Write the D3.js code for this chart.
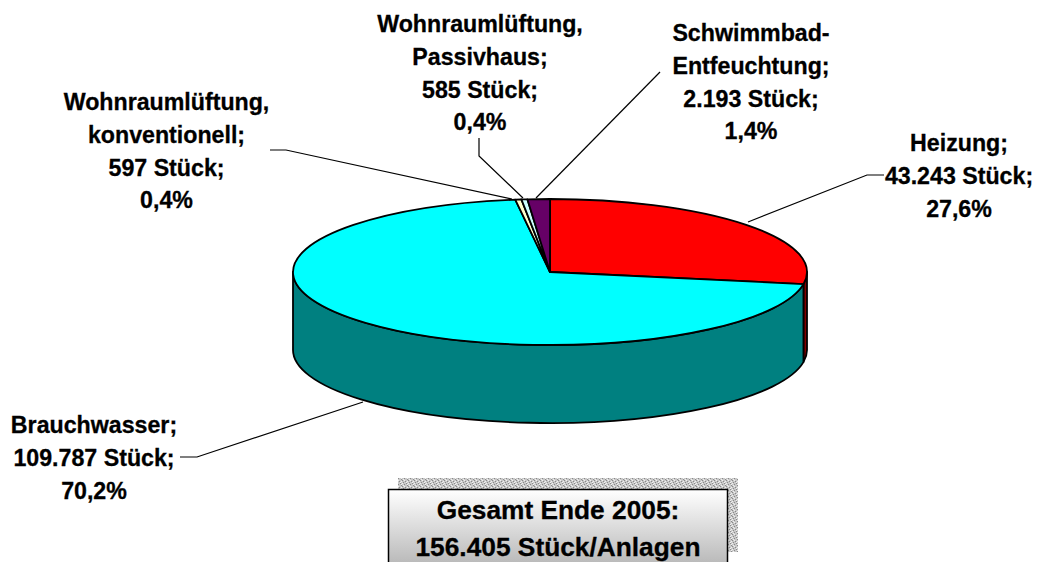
<!DOCTYPE html>
<html><head><meta charset="utf-8">
<style>html,body{margin:0;padding:0;background:#fff}svg{display:block}text{font-family:"Liberation Sans",Arial,sans-serif;font-weight:bold;fill:#000;stroke:#000;stroke-width:.3px}</style>
<script src="https://cdn.jsdelivr.net/npm/d3@7"></script></head><body>
<script>
const categories=["Heizung","Brauchwasser","Wohnraumlüftung, konventionell","Wohnraumlüftung, Passivhaus","Schwimmbad-Entfeuchtung"];
const values=[43243,109787,597,585,2193];
const topColors=["#ff0000","#00ffff","#ffffcc","#ccffff","#660066"];
const sideColors=["#800000","#008080","#808066","#668080","#330033"];
const labelLines=[
 ["Heizung;","43.243 Stück;","27,6%"],
 ["Brauchwasser;","109.787 Stück;","70,2%"],
 ["Wohnraumlüftung,","konventionell;","597 Stück;","0,4%"],
 ["Wohnraumlüftung,","Passivhaus;","585 Stück;","0,4%"],
 ["Schwimmbad-","Entfeuchtung;","2.193 Stück;","1,4%"]];
const labelAnchors=[[959,151],[94,433],[166.5,110],[480,32],[751,41]];
const leaders=[
 [[748,222],[867,175],[884,175]],
 [[363,402],[197,457],[180,457]],
 [[512,199],[286,150],[270,150]],
 [[523,198],[479,156],[479,138]],
 [[536,198],[660,72]]];
const totalLines=["Gesamt Ende 2005:","156.405 Stück/Anlagen"];

const W=1038,H=562,cx=550,cy=272,rx=257,ry=73,depth=78;
const svg=d3.select("body").append("svg").attr("width",W).attr("height",H);
const defs=svg.append("defs");
const g=defs.append("linearGradient").attr("id","boxGrad").attr("x1",0).attr("y1",0).attr("x2",0).attr("y2",1);
g.append("stop").attr("offset",0).attr("stop-color","#ffffff");
g.append("stop").attr("offset",1).attr("stop-color","#b4b4b4");
const pat=defs.append("pattern").attr("id","dither").attr("patternUnits","userSpaceOnUse").attr("width",6).attr("height",6);
pat.append("rect").attr("width",6).attr("height",6).attr("fill","#c8c8c8");
[[0,0],[3,1],[1,2],[4,3],[2,4],[5,5]].forEach(p=>pat.append("rect").attr("x",p[0]).attr("y",p[1]).attr("width",1).attr("height",1).attr("fill","#8a8a8a"));
[[2,0],[5,1],[4,2],[0,3],[5,4],[1,5]].forEach(p=>pat.append("rect").attr("x",p[0]).attr("y",p[1]).attr("width",1).attr("height",1).attr("fill","#f0f0f0"));

const arcs=d3.pie().sort(null)(values);
const px=a=>cx+rx*Math.sin(a), py=a=>cy-ry*Math.cos(a);
const wedge=d=>{
  const large=d.endAngle-d.startAngle>Math.PI?1:0;
  return `M${cx},${cy}L${px(d.startAngle)},${py(d.startAngle)}A${rx},${ry} 0 ${large} 1 ${px(d.endAngle)},${py(d.endAngle)}Z`;
};
const wall=d=>{
  const a0=Math.max(d.startAngle,Math.PI/2), a1=Math.min(d.endAngle,3*Math.PI/2);
  if(a1<=a0) return null;
  return `M${px(a0)},${py(a0)}A${rx},${ry} 0 0 1 ${px(a1)},${py(a1)}L${px(a1)},${py(a1)+depth}A${rx},${ry} 0 0 0 ${px(a0)},${py(a0)+depth}Z`;
};
const pie=svg.append("g").attr("stroke","#000").attr("stroke-width",1.8).attr("stroke-linejoin","round");
pie.selectAll("path.wall").data(arcs.filter(wall)).join("path").attr("class","wall").attr("d",wall).attr("fill",d=>sideColors[d.index]);
pie.selectAll("path.top").data(arcs).join("path").attr("class","top").attr("d",wedge).attr("fill",d=>topColors[d.index]);

const line=d3.line();
svg.append("g").selectAll("path").data(leaders).join("path").attr("d",line).attr("fill","none").attr("stroke","#000").attr("stroke-width",1.2);

const lab=svg.append("g").attr("text-anchor","middle").attr("font-size",23.2);
labelLines.forEach((ls,i)=>{
  const t=lab.append("text");
  ls.forEach((s,j)=>t.append("tspan").attr("x",labelAnchors[i][0]).attr("y",labelAnchors[i][1]+j*32.8).text(s));
});

svg.append("rect").attr("x",398).attr("y",478).attr("width",340).attr("height",74).attr("fill","url(#dither)");
svg.append("rect").attr("x",388.5).attr("y",489.5).attr("width",339).attr("height",80).attr("fill","url(#boxGrad)").attr("stroke","#000").attr("stroke-width",1.5);
const tot=svg.append("g").attr("text-anchor","middle").attr("font-size",26.3);
totalLines.forEach((s,i)=>tot.append("text").attr("x",558).attr("y",519+i*37).text(s));
</script></body></html>
